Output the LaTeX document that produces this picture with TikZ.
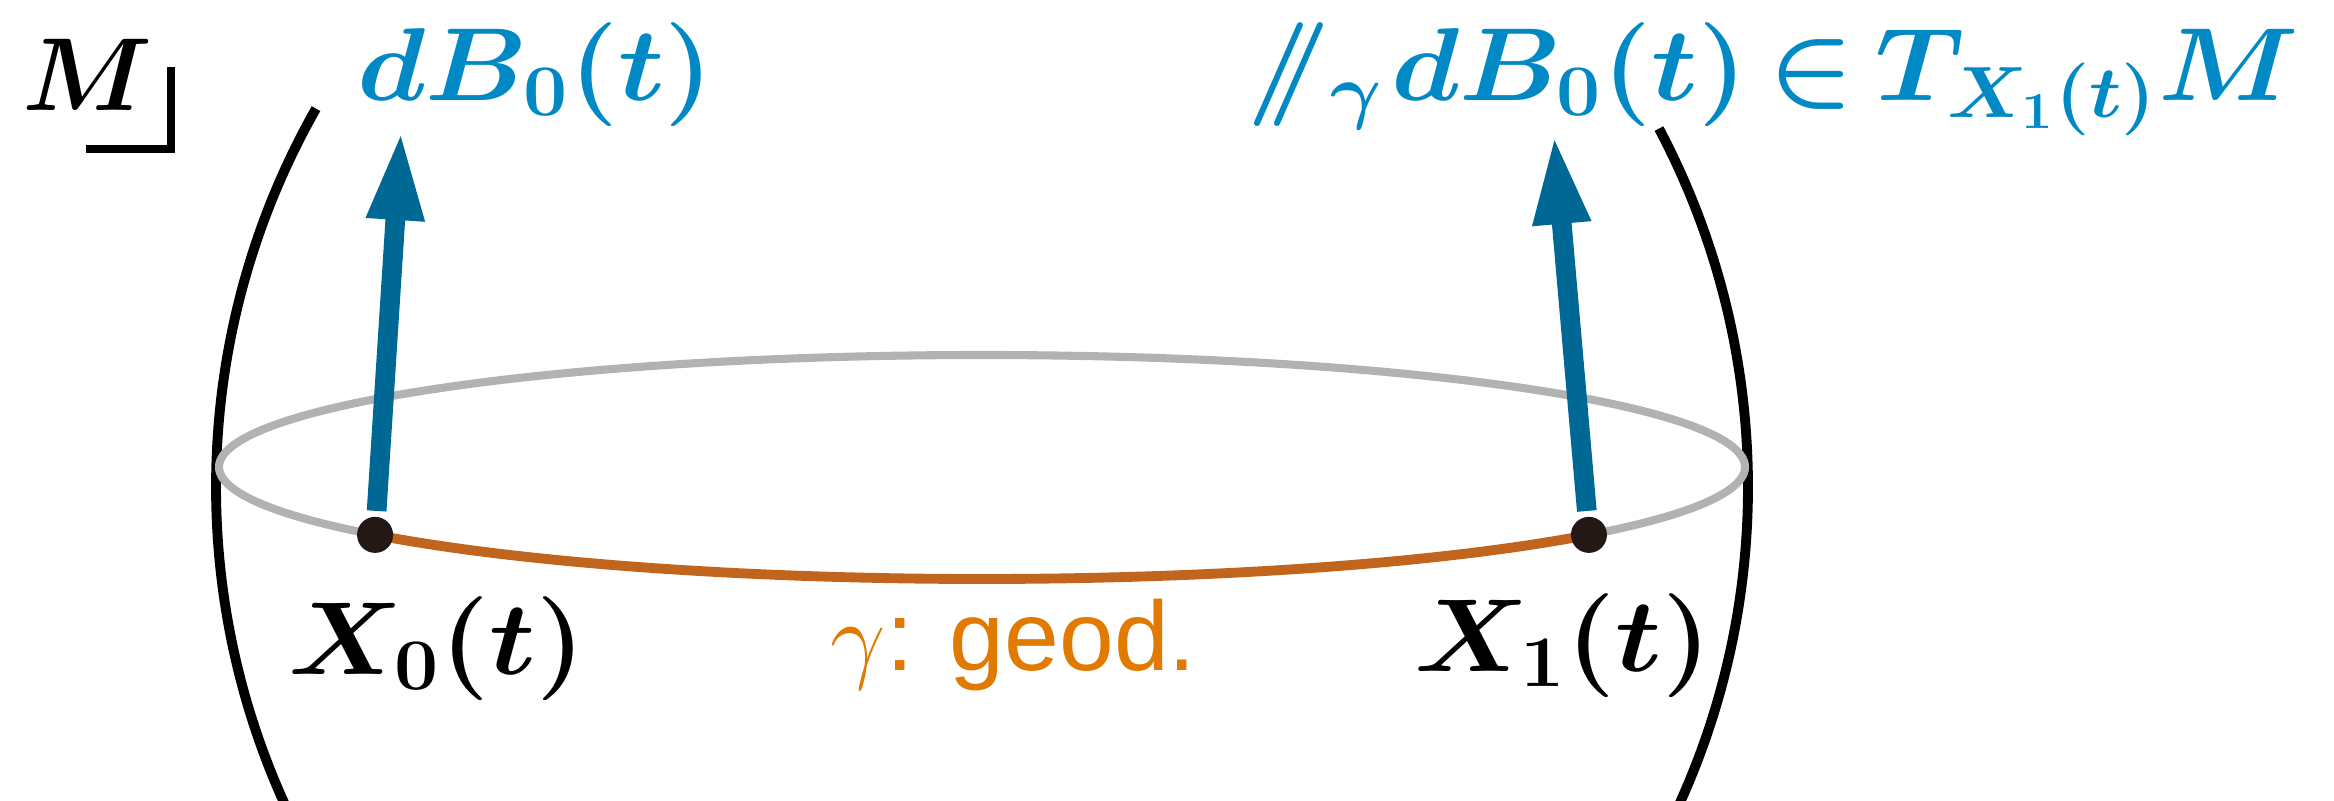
\RequirePackage{fix-cm}
\documentclass[tikz,border=0pt]{standalone}
\usepackage{fontspec}
\newfontfamily\geodfont{Liberation Sans}
\usepackage{graphicx}
\usepackage{tikz}
\usetikzlibrary{arrows.meta,calc}
\definecolor{VecBlue}{RGB}{0,104,148}
\definecolor{LabelBlue}{RGB}{0,137,196}
\definecolor{GeodOrange}{RGB}{193,100,30}
\definecolor{GeodText}{RGB}{224,122,0}
\definecolor{RimGray}{RGB}{178,178,178}
\definecolor{DotBrown}{RGB}{35,24,21}
\newcommand{\stretchlabel}[1]{\scalebox{1.08}[1]{#1}}
\tikzset{
  outline/.style={draw=black,line width=2.8pt},
  rim/.style={draw=RimGray,line width=2.3pt},
  geodarc/.style={draw=GeodOrange,line width=2.8pt},
  ptdot/.style={circle,fill=DotBrown,minimum size=3.6mm,inner sep=0pt},
  vec/.style={-{Triangle[length=8.9mm,width=5.3mm]},line width=5.6pt,draw=VecBlue,shorten <=1.5pt},
  mlabel/.style={inner sep=0pt,anchor=base west,font=\fontsize{29.5}{34}\selectfont\boldmath},
  bluelabel/.style={mlabel,text=LabelBlue},
  geodlabel/.style={inner sep=0pt,anchor=base west,text=GeodText,font=\fontsize{28}{34}\selectfont}
}
\begin{document}
\begin{tikzpicture}[x=0.01cm,y=-0.01cm]
\useasboundingbox (0,0) rectangle (2334,800);
\clip (0,0) rectangle (2334,800);
\coordinate (sph) at (982,487);
\coordinate (ctr) at (982,467);
\coordinate (p0) at ($(ctr)+(142.7:763 and 112)$);
\coordinate (p1) at ($(ctr)+(37.3:763 and 112)$);
\coordinate (tip0) at (401,131);
\coordinate (tip1) at (1554,135);
% sphere outline
\draw[outline] (sph) ++(-150.4:766) arc[start angle=-150.4,end angle=-210,radius=766];
\draw[outline] (sph) ++(-27.9:766) arc[start angle=-27.9,end angle=30,radius=766];
% equator and geodesic
\draw[rim] (ctr) ellipse[x radius=763,y radius=112];
\draw[geodarc] (p0) arc[start angle=142.7,end angle=37.3,x radius=763,y radius=112];
\node[ptdot] (x0) at (p0) {};
\node[ptdot] (x1) at (p1) {};
\draw[vec] (x0) -- (tip0);
\draw[vec] (x1) -- (tip1);
% labels
\node[mlabel] (manifold) at (22,110) {$M$};
\draw[outline,line width=2.2pt] (86,149) -| (171,67);
\node[bluelabel] (dB) at (357,100) {\stretchlabel{$dB_0(t)$}};
\node[bluelabel] (ptB) at (1247,100) {\stretchlabel{$/\mkern-6mu/_{\gamma}\mkern1mu dB_0(t)\mkern-2mu\in\mkern-2mu T_{X_1(t)}M$}};
\node[mlabel] (lx0) at (288,674) {\stretchlabel{$X_0(t)$}};
\node[mlabel] (lx1) at (1414,671) {\stretchlabel{$X_1(t)$}};
\node[geodlabel] (lgeod) at (830,670) {$\gamma$\geodfont: geod.};
\end{tikzpicture}
\end{document}
